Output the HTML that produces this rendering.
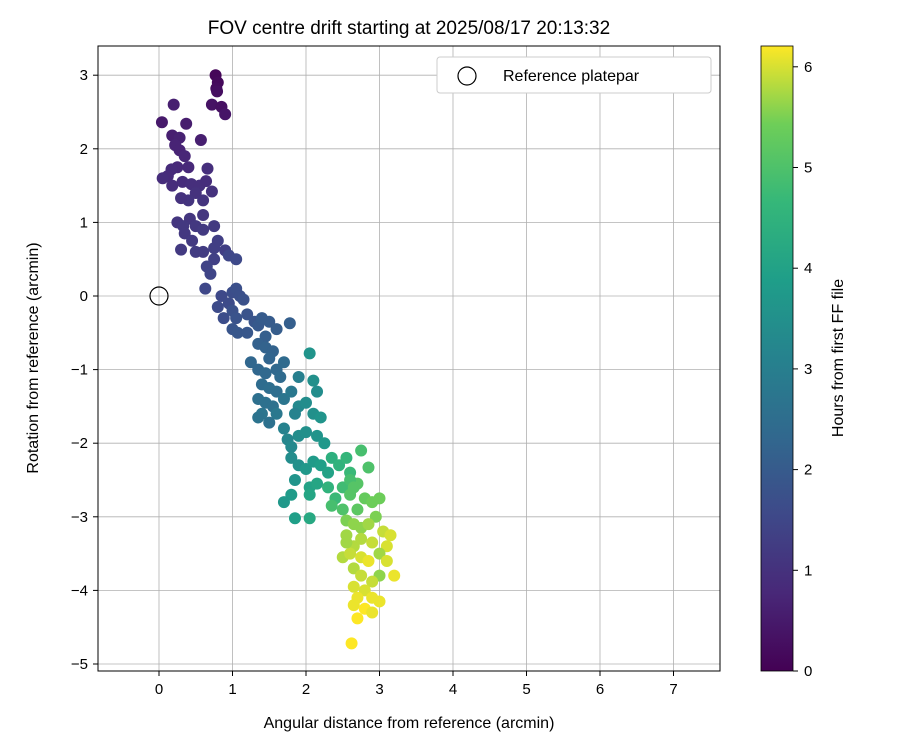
<!DOCTYPE html>
<html><head><meta charset="utf-8"><style>
body{margin:0;background:#fff;font-family:"Liberation Sans","DejaVu Sans",sans-serif}
</style></head><body>
<svg id="chart" width="900" height="750" xmlns="http://www.w3.org/2000/svg" font-family="Liberation Sans, DejaVu Sans, sans-serif">
<defs><linearGradient id="vir" x1="0" y1="1" x2="0" y2="0">
<stop offset="0" stop-color="#440154"/><stop offset="0.125" stop-color="#482878"/><stop offset="0.25" stop-color="#3e4989"/><stop offset="0.375" stop-color="#31688e"/><stop offset="0.5" stop-color="#26828e"/><stop offset="0.625" stop-color="#1f9e89"/><stop offset="0.75" stop-color="#35b779"/><stop offset="0.875" stop-color="#6ece58"/><stop offset="1" stop-color="#fde725"/></linearGradient></defs>
<text x="409" y="34" font-size="19" text-anchor="middle">FOV centre drift starting at 2025/08/17 20:13:32</text>
<g id="grid"></g><g id="pts"></g>
<rect x="98" y="46" width="622" height="625" fill="none" stroke="#000" stroke-width="1"/>
<g id="ticks"></g>
<text x="409" y="728" font-size="16" text-anchor="middle">Angular distance from reference (arcmin)</text>
<text transform="translate(38,358) rotate(-90)" font-size="16" text-anchor="middle">Rotation from reference (arcmin)</text>
<g>
<rect x="437" y="57" width="274" height="36" rx="3" fill="#fff" stroke="#ccc"/>
<circle cx="467" cy="76" r="9" fill="none" stroke="#000" stroke-width="1.2"/>
<text x="503" y="81" font-size="16">Reference platepar</text></g>
<rect x="761" y="46" width="32" height="625" fill="url(#vir)" stroke="#000" stroke-width="0.8"/>
<g id="cbticks"></g>
<text transform="translate(843,358) rotate(-90)" font-size="16" text-anchor="middle">Hours from first FF file</text>
</svg>
<script>
const xTicks=[0,1,2,3,4,5,6,7];
const yTicks=[3,2,1,0,-1,-2,-3,-4,-5];
const cbTicks=[0,1,2,3,4,5,6];
const xs=[0.77,0.8,0.78,0.79,0.72,0.85,0.9,0.2,0.04,0.37,0.18,0.28,0.22,0.28,0.35,0.57,0.4,0.25,0.17,0.12,0.05,0.18,0.32,0.44,0.55,0.64,0.66,0.72,0.5,0.6,0.4,0.3,0.6,0.42,0.25,0.33,0.5,0.6,0.75,0.35,0.45,0.3,0.5,0.6,0.75,0.9,0.8,0.75,0.65,0.7,0.95,1.05,0.63,0.85,0.8,0.88,0.95,1.0,1.05,1.1,1.15,1.0,1.05,1.2,1.3,1.0,1.07,1.2,1.35,1.4,1.5,1.6,1.78,1.45,1.35,1.45,1.55,1.5,1.25,1.35,1.45,1.6,1.7,1.65,1.4,1.5,1.6,1.35,1.45,1.55,1.7,1.8,1.9,2.05,2.1,2.15,1.4,1.5,1.6,1.35,1.9,2.0,1.85,2.1,2.2,1.7,1.75,1.8,1.9,2.0,2.15,2.25,1.8,1.9,1.85,2.0,2.1,2.2,2.3,2.05,2.15,1.8,1.7,2.05,1.85,2.05,2.35,2.45,2.55,2.6,2.75,2.85,2.3,2.4,2.5,2.35,2.5,2.6,2.7,2.7,2.8,2.9,3.0,2.95,2.55,2.65,2.75,2.85,2.55,2.65,2.75,2.9,3.05,3.15,3.1,2.5,2.6,2.75,2.85,3.0,3.1,3.2,3.0,2.9,2.65,2.75,2.65,2.8,2.7,2.9,3.0,2.65,2.8,2.9,2.7,2.62,2.6,2.65,2.55];
const ys=[3.0,2.9,2.82,2.78,2.6,2.57,2.47,2.6,2.36,2.34,2.18,2.15,2.05,1.98,1.9,2.12,1.75,1.75,1.72,1.63,1.6,1.5,1.55,1.52,1.5,1.56,1.73,1.42,1.4,1.3,1.3,1.33,1.1,1.05,1.0,0.95,0.95,0.9,0.95,0.85,0.75,0.63,0.6,0.6,0.65,0.62,0.75,0.5,0.4,0.3,0.55,0.5,0.1,0.0,-0.15,-0.3,-0.1,0.05,0.1,0.0,-0.05,-0.2,-0.3,-0.25,-0.35,-0.45,-0.5,-0.5,-0.4,-0.3,-0.35,-0.45,-0.37,-0.55,-0.65,-0.7,-0.75,-0.85,-0.9,-1.0,-1.05,-1.0,-0.9,-1.1,-1.2,-1.25,-1.3,-1.4,-1.45,-1.5,-1.4,-1.3,-1.1,-0.78,-1.15,-1.3,-1.6,-1.72,-1.6,-1.65,-1.5,-1.45,-1.6,-1.6,-1.65,-1.8,-1.95,-2.05,-1.9,-1.85,-1.9,-2.0,-2.2,-2.3,-2.5,-2.35,-2.25,-2.3,-2.4,-2.6,-2.55,-2.7,-2.8,-2.7,-3.02,-3.02,-2.2,-2.3,-2.2,-2.4,-2.1,-2.33,-2.6,-2.75,-2.6,-2.85,-2.9,-2.7,-2.55,-2.9,-2.75,-2.8,-2.75,-3.0,-3.05,-3.1,-3.15,-3.1,-3.25,-3.4,-3.3,-3.35,-3.2,-3.25,-3.4,-3.55,-3.5,-3.55,-3.6,-3.5,-3.6,-3.8,-3.8,-3.88,-3.7,-3.8,-3.95,-4.0,-4.1,-4.1,-4.15,-4.2,-4.25,-4.3,-4.38,-4.72,-2.5,-2.6,-3.35];
const hours=[0.1,0.15,0.2,0.25,0.35,0.3,0.4,0.6,0.5,0.55,0.6,0.65,0.7,0.7,0.75,0.6,0.8,0.8,0.85,0.85,0.9,0.9,0.9,0.95,0.95,0.9,0.95,1.0,1.0,1.05,1.05,1.0,1.1,1.1,1.1,1.15,1.15,1.2,1.2,1.15,1.2,1.2,1.25,1.25,1.3,1.3,1.3,1.35,1.4,1.45,1.5,1.55,1.5,1.55,1.6,1.65,1.6,1.65,1.7,1.7,1.75,1.75,1.8,1.8,1.85,1.85,1.9,1.9,1.95,2.0,2.0,2.05,2.1,2.1,2.15,2.2,2.2,2.25,2.3,2.3,2.35,2.35,2.4,2.4,2.45,2.5,2.5,2.55,2.6,2.6,2.7,2.8,3.0,3.6,3.5,3.4,2.7,2.6,2.8,2.65,3.3,3.4,3.1,3.5,3.6,3.1,3.2,3.3,3.4,3.5,3.6,3.7,3.4,3.5,3.6,3.7,3.8,3.9,4.0,4.0,4.1,3.8,3.7,4.1,3.9,4.2,4.4,4.5,4.6,4.7,4.9,5.0,4.5,4.7,4.8,4.9,5.0,5.1,5.1,5.2,5.3,5.4,5.4,5.5,5.5,5.6,5.6,5.7,5.7,5.8,5.8,5.9,5.9,6.0,6.0,5.8,5.9,6.0,6.1,5.7,6.0,6.1,5.6,5.9,5.8,5.9,6.0,6.0,6.1,6.1,6.1,6.1,6.2,6.1,6.2,6.2,4.9,5.1,5.7];
const X0=159,XS=73.5,Y0=296,YS=73.6,NS="http://www.w3.org/2000/svg";
const sx=v=>X0+v*XS, sy=v=>Y0-v*YS, cy=v=>671-v*100.7;
const stops=[[68,1,84],[72,40,120],[62,73,137],[49,104,142],[38,130,142],[31,158,137],[53,183,121],[110,206,88],[253,231,37]];
function vir(h){let t=Math.max(0,Math.min(1,h/6.2))*8,i=Math.min(7,Math.floor(t)),f=t-i;const a=stops[i],b=stops[i+1];return `rgb(${a.map((c,k)=>Math.round(c+(b[k]-c)*f)).join(',')})`;}
function mk(tag,at,parent){const e=document.createElementNS(NS,tag);for(const k in at)e.setAttribute(k,at[k]);parent.appendChild(e);return e;}
const grid=document.getElementById('grid'),ticks=document.getElementById('ticks'),pts=document.getElementById('pts'),cbt=document.getElementById('cbticks');
xTicks.forEach(v=>{const x=sx(v);
const g=mk('line',{x1:x,x2:x,y1:46,y2:671,stroke:'#b0b0b0','stroke-width':0.8},grid);


mk('line',{x1:x,x2:x,y1:671,y2:676,stroke:'#000'},ticks);
const t=mk('text',{x:x,y:694,'font-size':15,'text-anchor':'middle'},ticks);t.textContent=v;

});
yTicks.forEach(v=>{const y=sy(v);
const g=mk('line',{x1:98,x2:720,y1:y,y2:y,stroke:'#b0b0b0','stroke-width':0.8},grid);


mk('line',{x1:93,x2:98,y1:y,y2:y,stroke:'#000'},ticks);
const t=mk('text',{x:88,y:y+5,'font-size':15,'text-anchor':'end'},ticks);t.textContent=v<0?'\u2212'+(-v):v;

});
cbTicks.forEach(v=>{const y=cy(v);
mk('line',{x1:793,x2:798,y1:y,y2:y,stroke:'#000'},cbt);
const t=mk('text',{x:804,y:y+5,'font-size':15},cbt);t.textContent=v;

});
xs.forEach((x,i)=>{const c=mk('circle',{cx:sx(x),cy:sy(ys[i]),r:6,fill:vir(hours[i])},pts);

});
const ref=mk('circle',{cx:sx(0),cy:sy(0),r:9,fill:'none',stroke:'#000','stroke-width':1.2},pts);


</script>
</body></html>
